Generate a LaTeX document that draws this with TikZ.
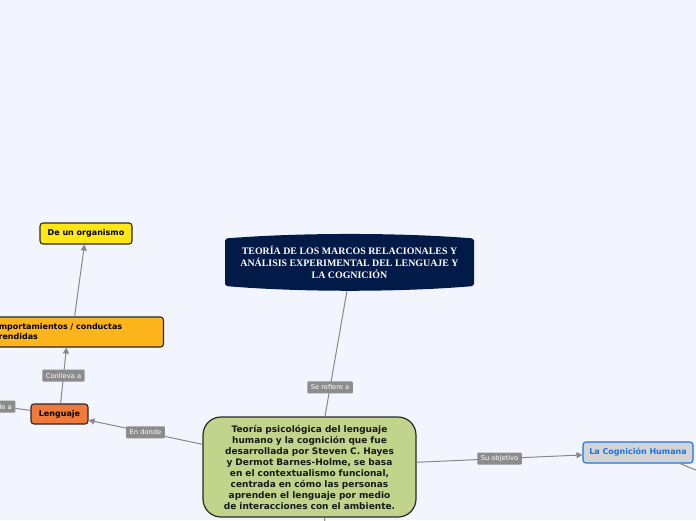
\documentclass[tikz,border=0pt]{standalone}
\usepackage{fontspec}
\setmainfont{DejaVu Sans}
\newfontfamily\titlefont{Liberation Serif}
\usetikzlibrary{arrows.meta,calc}
\definecolor{bg}{RGB}{243,245,254}
\definecolor{boxline}{RGB}{40,40,40}
\definecolor{orgyellow}{RGB}{255,230,22}
\definecolor{compyellow}{RGB}{253,181,27}
\definecolor{lengorange}{RGB}{240,122,58}
\definecolor{coggray}{RGB}{212,212,212}
\definecolor{cogblue}{RGB}{26,115,232}
\definecolor{maingreen}{RGB}{194,211,140}
\definecolor{navy}{RGB}{2,26,72}
\definecolor{lblgray}{RGB}{140,140,140}
\definecolor{conngray}{RGB}{136,136,136}
\tikzset{
  box/.style={draw=boxline, line width=1.1pt, rounded corners=3pt,
    font=\bfseries\fontsize{8}{10}\selectfont, text=black,
    inner xsep=5pt, inner ysep=0pt, minimum height=20pt},
  lbl/.style={fill=lblgray, text=white, font=\fontsize{6.7}{7}\selectfont,
    rounded corners=1pt, inner xsep=3.5pt, inner ysep=0pt, minimum height=12pt},
  conn/.style={draw=conngray, line width=1pt},
  arr/.style={-{Triangle[length=6pt,width=6pt]}}
}
\begin{document}
\begin{tikzpicture}[x=1pt,y=-1pt]
\useasboundingbox (0,0) rectangle (696,520);
\clip (0,0) rectangle (696,520);
\fill[bg] (0,0) rectangle (696,520);

% title barrel shape
\fill[navy, rounded corners=2pt] (225,238.5) .. controls (300,232.5) and (400,232.5) .. (474,238.5)
  -- (474,286) .. controls (400,292.3) and (300,292.3) .. (225,286) -- cycle;
\node[minimum width=248pt, minimum height=57pt, text=white, align=center,
  font=\titlefont\bfseries\fontsize{9.9}{12}\selectfont] (title) at (349.5,262)
  {TEORÍA DE LOS MARCOS RELACIONALES Y\\ANÁLISIS EXPERIMENTAL DEL LENGUAJE Y\\LA COGNICIÓN};

% main node
\node[draw=boxline, line width=1.2pt, fill=maingreen, rounded corners=18pt,
  minimum width=213pt, minimum height=100pt, text width=205pt, align=center,
  inner sep=0pt, text=black!90, font=\bfseries\fontsize{9}{11}\selectfont] (main) at (309.5,467)
  {Teoría psicológica del lenguaje\\humano y la cognición que fue\\desarrollada por Steven C. Hayes\\y Dermot Barnes-Holme, se basa\\en el contextualismo funcional,\\centrada en cómo las personas\\aprenden el lenguaje por medio\\de interacciones con el ambiente.};

\node[box, fill=orgyellow, minimum width=92pt, minimum height=21pt] (org) at (86,233.5) {De un organismo};
\node[box, fill=compyellow, anchor=east, minimum height=30pt, text width=170pt,
  align=left, inner xsep=6pt] (comp) at (164,332) {Comportamientos / conductas\\aprendidas};
\node[box, fill=lengorange, minimum width=57pt, minimum height=20pt] (leng) at (59.5,414) {Lenguaje};
\node[box, fill=coggray, draw=cogblue, text=cogblue, minimum width=110pt, minimum height=21pt] (cog) at (638,452.5) {La Cognición Humana};

\node[lbl, anchor=east, text width=24pt, align=right] (leftlbl) at (15.5,406.5) {de a};
\coordinate (offr) at (720,480);
\coordinate (offb) at (327,545);

% connectors
\draw[conn] ($(main.north)+(15.5,0)$) -- node[lbl, pos=0.23] {Se refiere a} ($(title.south)+(-2.5,0)$);
\draw[conn,arr] (main) -- node[lbl, pos=0.5] {En donde} (leng);
\draw[conn,arr] (leng) -- node[lbl, pos=0.5] {Conlleva a} ($(comp.south)+(-6,0)$);
\draw[conn,arr] (comp) -- (org);
\draw[conn,arr] (main) -- node[lbl, pos=0.5] {Su objetivo} (cog);
\draw[conn] (leng) -- (leftlbl);
\draw[conn] ($(cog.south)+(42,0)$) -- (offr);
\draw[conn] ($(main.south)+(15,0)$) -- (offb);
\end{tikzpicture}
\end{document}
